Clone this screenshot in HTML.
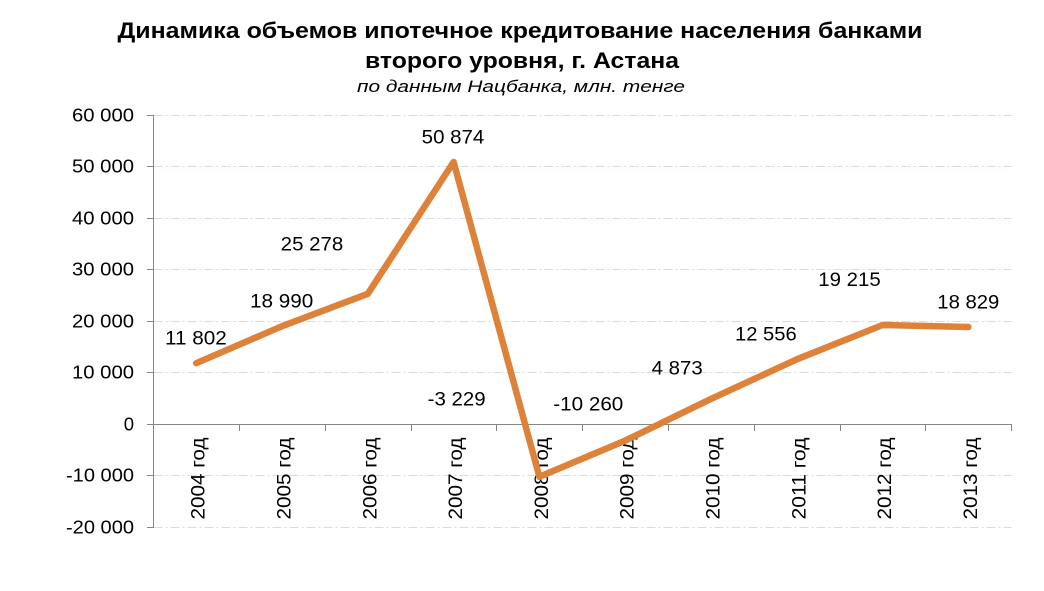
<!DOCTYPE html>
<html>
<head>
<meta charset="utf-8">
<style>
  html, body { margin:0; padding:0; background:#fff; }
  svg { display:block; }
  text { font-family: "Liberation Sans", "DejaVu Sans", sans-serif; fill:#000; }
</style>
</head>
<body>
<svg width="1044" height="591" viewBox="0 0 1044 591" xmlns="http://www.w3.org/2000/svg">
  <rect width="1044" height="591" fill="#fff"/>

  <!-- Title -->
  <text x="117.5" y="38" font-size="22" font-weight="bold" textLength="805" lengthAdjust="spacingAndGlyphs">Динамика объемов ипотечное кредитование населения банками</text>
  <text x="365" y="68" font-size="22" font-weight="bold" textLength="314" lengthAdjust="spacingAndGlyphs">второго уровня, г. Астана</text>
  <text x="357" y="92" font-size="17" font-style="italic" textLength="328" lengthAdjust="spacingAndGlyphs">по данным Нацбанка, млн. тенге</text>

  <!-- Gridlines -->
  <g stroke="#D3DCEB" stroke-width="1" stroke-dasharray="9 3 2 3" fill="none">
    <line x1="153.5" y1="115.5" x2="1011.5" y2="115.5"/>
    <line x1="153.5" y1="166.5" x2="1011.5" y2="166.5"/>
    <line x1="153.5" y1="218.5" x2="1011.5" y2="218.5"/>
    <line x1="153.5" y1="269.5" x2="1011.5" y2="269.5"/>
    <line x1="153.5" y1="321.5" x2="1011.5" y2="321.5"/>
    <line x1="153.5" y1="372.5" x2="1011.5" y2="372.5"/>
    <line x1="153.5" y1="475.5" x2="1011.5" y2="475.5"/>
    <line x1="153.5" y1="527.5" x2="1011.5" y2="527.5"/>
  </g>

  <!-- Axes -->
  <g stroke="#868686" stroke-width="1" fill="none">
    <line x1="153.5" y1="115" x2="153.5" y2="528"/>
    <line x1="153" y1="424.5" x2="1012" y2="424.5"/>
    <line x1="147" y1="115.5" x2="153" y2="115.5"/>
    <line x1="147" y1="166.5" x2="153" y2="166.5"/>
    <line x1="147" y1="218.5" x2="153" y2="218.5"/>
    <line x1="147" y1="269.5" x2="153" y2="269.5"/>
    <line x1="147" y1="321.5" x2="153" y2="321.5"/>
    <line x1="147" y1="372.5" x2="153" y2="372.5"/>
    <line x1="147" y1="424.5" x2="153" y2="424.5"/>
    <line x1="147" y1="475.5" x2="153" y2="475.5"/>
    <line x1="147" y1="527.5" x2="153" y2="527.5"/>
    <line x1="239.5" y1="424" x2="239.5" y2="431"/>
    <line x1="325.5" y1="424" x2="325.5" y2="431"/>
    <line x1="411.5" y1="424" x2="411.5" y2="431"/>
    <line x1="496.5" y1="424" x2="496.5" y2="431"/>
    <line x1="582.5" y1="424" x2="582.5" y2="431"/>
    <line x1="668.5" y1="424" x2="668.5" y2="431"/>
    <line x1="754.5" y1="424" x2="754.5" y2="431"/>
    <line x1="840.5" y1="424" x2="840.5" y2="431"/>
    <line x1="925.5" y1="424" x2="925.5" y2="431"/>
    <line x1="1011.5" y1="424" x2="1011.5" y2="431"/>
  </g>

  <!-- Y-axis labels -->
  <g font-size="18.5" text-anchor="end">
    <text x="134" y="121.7" textLength="62" lengthAdjust="spacingAndGlyphs">60 000</text>
    <text x="134" y="172.7" textLength="62" lengthAdjust="spacingAndGlyphs">50 000</text>
    <text x="134" y="224.7" textLength="62" lengthAdjust="spacingAndGlyphs">40 000</text>
    <text x="134" y="275.7" textLength="62" lengthAdjust="spacingAndGlyphs">30 000</text>
    <text x="134" y="327.7" textLength="62" lengthAdjust="spacingAndGlyphs">20 000</text>
    <text x="134" y="378.7" textLength="62" lengthAdjust="spacingAndGlyphs">10 000</text>
    <text x="134" y="430.7">0</text>
    <text x="134" y="481.7" textLength="68" lengthAdjust="spacingAndGlyphs">-10 000</text>
    <text x="134" y="533.7" textLength="68" lengthAdjust="spacingAndGlyphs">-20 000</text>
  </g>

  <!-- Category labels (rotated) -->
  <g font-size="19.5" text-anchor="end">
    <text transform="translate(204.7,437.5) rotate(-90)" textLength="82" lengthAdjust="spacingAndGlyphs">2004 год</text>
    <text transform="translate(290.5,437.5) rotate(-90)" textLength="82" lengthAdjust="spacingAndGlyphs">2005 год</text>
    <text transform="translate(376.3,437.5) rotate(-90)" textLength="82" lengthAdjust="spacingAndGlyphs">2006 год</text>
    <text transform="translate(462.1,437.5) rotate(-90)" textLength="82" lengthAdjust="spacingAndGlyphs">2007 год</text>
    <text transform="translate(547.9,437.5) rotate(-90)" textLength="82" lengthAdjust="spacingAndGlyphs">2008 год</text>
    <text transform="translate(633.7,437.5) rotate(-90)" textLength="82" lengthAdjust="spacingAndGlyphs">2009 год</text>
    <text transform="translate(719.5,437.5) rotate(-90)" textLength="82" lengthAdjust="spacingAndGlyphs">2010 год</text>
    <text transform="translate(805.3,437.5) rotate(-90)" textLength="82" lengthAdjust="spacingAndGlyphs">2011 год</text>
    <text transform="translate(891.1,437.5) rotate(-90)" textLength="82" lengthAdjust="spacingAndGlyphs">2012 год</text>
    <text transform="translate(976.9,437.5) rotate(-90)" textLength="82" lengthAdjust="spacingAndGlyphs">2013 год</text>
  </g>

  <!-- Series line -->
  <polyline fill="none" stroke="#DE8139" stroke-width="6.5" stroke-linejoin="round" stroke-linecap="round"
    points="196.2,363.2 282,326.2 367.8,293.8 453.6,162 539.4,476.8 625.2,440.6 711,398.9 796.8,359.3 882.6,325 968.4,327"/>

  <!-- Data labels -->
  <g font-size="19">
    <text x="165" y="344.3" textLength="61.7" lengthAdjust="spacingAndGlyphs">11 802</text>
    <text x="250" y="307.3" textLength="63.3" lengthAdjust="spacingAndGlyphs">18 990</text>
    <text x="280.7" y="250.7" textLength="62.6" lengthAdjust="spacingAndGlyphs">25 278</text>
    <text x="421.7" y="143.3" textLength="62.6" lengthAdjust="spacingAndGlyphs">50 874</text>
    <text x="427.7" y="405.7" textLength="58" lengthAdjust="spacingAndGlyphs">-3 229</text>
    <text x="553.3" y="410.7" textLength="70" lengthAdjust="spacingAndGlyphs">-10 260</text>
    <text x="651.7" y="374.3" textLength="51" lengthAdjust="spacingAndGlyphs">4 873</text>
    <text x="735" y="340.7" textLength="61.7" lengthAdjust="spacingAndGlyphs">12 556</text>
    <text x="818.3" y="286" textLength="62.4" lengthAdjust="spacingAndGlyphs">19 215</text>
    <text x="937.3" y="308.7" textLength="62" lengthAdjust="spacingAndGlyphs">18 829</text>
  </g>
</svg>
</body>
</html>
